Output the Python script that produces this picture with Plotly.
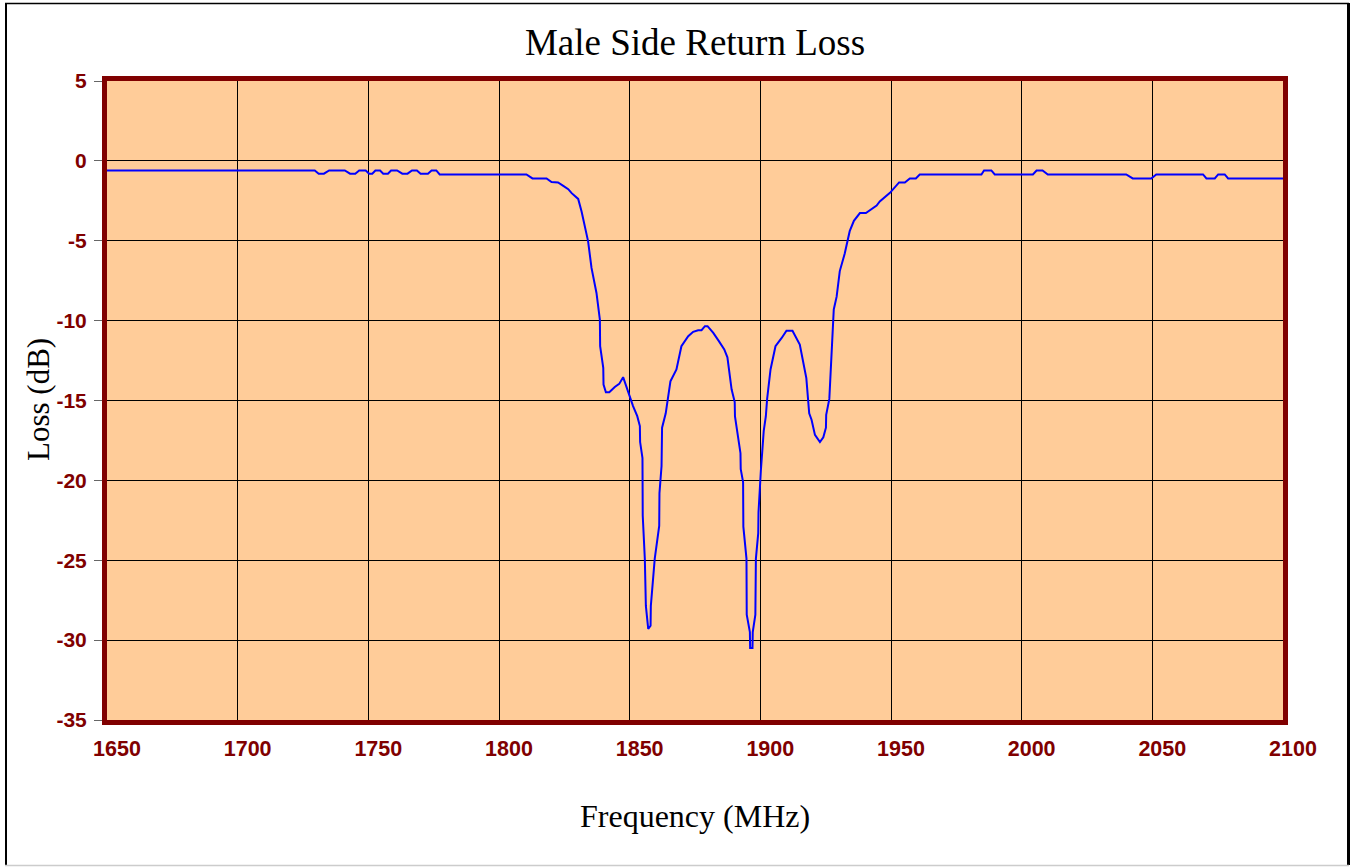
import plotly.graph_objects as go

# Data
freq_mhz = [
    1650, 1729.5, 1731, 1733, 1735, 1741, 1743, 1745, 1746.5, 1749,
    1750.3, 1751.5, 1752.7, 1754.5, 1755.7, 1757.5, 1758.7, 1761, 1763, 1765,
    1766.7, 1768.6, 1770, 1772.8, 1774.2, 1776, 1777.3, 1810.5, 1812.8, 1818.2,
    1820.1, 1822.6, 1824.6, 1826.5, 1827.8, 1829, 1830.3, 1831.6, 1833.2, 1834.1,
    1835.4, 1837.3, 1838.6, 1838.7, 1839.9, 1840.0, 1840.9, 1842.2, 1844.3, 1846,
    1847.5, 1849.4, 1851.3, 1852.9, 1853.9, 1854.0, 1854.9, 1855.0, 1855.8, 1856.2,
    1857.1, 1858, 1858.1, 1859.6, 1861.3, 1861.4, 1862.2, 1862.4, 1863.8, 1865.6,
    1867.9, 1869.8, 1872.4, 1874.3, 1876.2, 1877.5, 1878.8, 1879.8, 1882, 1884.2,
    1886.2, 1887.4, 1889, 1890.2, 1890.3, 1892.4, 1892.5, 1893.4, 1893.5, 1894.7,
    1894.8, 1896, 1896.1, 1897, 1897.1, 1898.1, 1898.3, 1899.2, 1899.3, 1900.2,
    1900.8, 1901.3, 1902.1, 1902.6, 1903.9, 1905.8, 1908.1, 1910, 1912.3, 1915.1,
    1917.6, 1918.3, 1918.7, 1919.6, 1920.9, 1922.8, 1924.1, 1925.1, 1925.2, 1926.4,
    1928.1, 1929.2, 1930.4, 1932.3, 1934.2, 1935.8, 1938.1, 1940.4, 1942.6, 1944.5,
    1945.7, 1949.6, 1953.1, 1955.3, 1957.2, 1959.5, 1961, 1984.6, 1985.6, 1988.4,
    1989.7, 2004.3, 2005.7, 2008, 2010, 2040, 2042.5, 2049.6, 2051.5, 2069.4,
    2070.7, 2073.9, 2075.2, 2077.7, 2079, 2100,
]
loss_db = [
    -0.6, -0.6, -0.8, -0.8, -0.6, -0.6, -0.8, -0.8, -0.6, -0.6,
    -0.8, -0.8, -0.6, -0.6, -0.8, -0.8, -0.6, -0.6, -0.8, -0.8,
    -0.6, -0.6, -0.8, -0.8, -0.6, -0.6, -0.85, -0.85, -1.1, -1.1,
    -1.33, -1.35, -1.56, -1.77, -2.02, -2.17, -2.38, -3.17, -4.3, -5.04,
    -6.7, -8.27, -9.94, -11.6, -12.96, -14.0, -14.48, -14.48, -14.15, -13.96,
    -13.54, -14.5, -15.35, -15.98, -16.6, -17.6, -18.6, -22.2, -24.9, -27.86,
    -29.3, -29.1, -27.86, -24.9, -22.85, -20.8, -19.1, -16.7, -15.8, -13.8,
    -13.06, -11.6, -10.98, -10.7, -10.6, -10.6, -10.35, -10.35, -10.77, -11.3,
    -11.8, -12.3, -14.3, -15.1, -16.0, -18.3, -19.3, -20.1, -22.9, -24.9,
    -28.4, -29.5, -30.5, -30.5, -29.5, -28.4, -24.9, -23.3, -22.0, -19.4,
    -17.9, -16.9, -16.0, -14.9, -13.06, -11.6, -11.1, -10.63, -10.63, -11.5,
    -13.6, -14.9, -15.8, -16.2, -17.15, -17.6, -17.3, -16.7, -15.9, -14.9,
    -9.3, -8.5, -6.9, -5.8, -4.4, -3.75, -3.27, -3.27, -3.0, -2.8,
    -2.54, -2.0, -1.35, -1.35, -1.1, -1.1, -0.85, -0.85, -0.6, -0.6,
    -0.85, -0.85, -0.6, -0.6, -0.85, -0.85, -1.1, -1.1, -0.85, -0.85,
    -1.1, -1.1, -0.85, -0.85, -1.1, -1.1,
]
x_ticks = [1650, 1700, 1750, 1800, 1850, 1900, 1950, 2000, 2050, 2100]
y_ticks = [5, 0, -5, -10, -15, -20, -25, -30, -35]

title_text = "Male Side Return Loss"
x_title = "Frequency (MHz)"
y_title = "Loss (dB)"

W, H = 1351, 867
L, R, T, B = 107, 68, 81, 147
pw, ph = W - L - R, H - T - B

def px(xp):
    return (xp - L) / pw

def py(yp):
    return (H - B - yp) / ph

serif = "Liberation Serif, Times New Roman, serif"
sans = "Liberation Sans, Arial, sans-serif"
dark_red = "#800000"

fig = go.Figure()
fig.add_trace(go.Scatter(
    x=freq_mhz, y=loss_db, mode="lines",
    line=dict(color="#0000FF", width=2),
    showlegend=False, hoverinfo="x+y",
))

fig.update_layout(
    width=W, height=H,
    margin=dict(l=L, r=R, t=T, b=B, pad=0),
    paper_bgcolor="white",
    plot_bgcolor="#FFCC99",
    title=dict(text=title_text, font=dict(family=serif, size=37, color="black"),
               x=0.5, xref="paper", y=1 - 42 / H, yref="container",
               xanchor="center", yanchor="middle"),
    xaxis=dict(range=[1650, 2100], tickvals=x_ticks, ticktext=[str(v) for v in x_ticks],
               showgrid=True, gridcolor="black", gridwidth=1,
               showline=True, linecolor=dark_red, linewidth=5, mirror=True,
               ticks="", zeroline=False,
               tickfont=dict(family=sans, size=21.5, color=dark_red, weight="bold"),
               ticklabelstandoff=5, ticklabelshift=10),
    yaxis=dict(range=[-35, 5], tickvals=y_ticks, ticktext=[str(v) for v in y_ticks],
               showgrid=True, gridcolor="black", gridwidth=1,
               showline=True, linecolor=dark_red, linewidth=5, mirror=True,
               ticks="outside", ticklen=8, tickcolor="#666666", tickwidth=1,
               zeroline=False,
               tickfont=dict(family=sans, size=21, color=dark_red, weight="bold"),
               ticklabelstandoff=3),
    annotations=[
        dict(text=x_title, x=0.5, y=py(816), xref="paper", yref="paper",
             xanchor="center", yanchor="middle", showarrow=False,
             font=dict(family=serif, size=32, color="black")),
        dict(text=y_title, x=px(38), y=py(400), xref="paper", yref="paper",
             xanchor="center", yanchor="middle", showarrow=False, textangle=-90,
             font=dict(family=serif, size=31, color="black")),
    ],
    shapes=[
        dict(type="line", xref="paper", yref="paper", x0=px(6), x1=px(6), y0=py(3), y1=py(865),
             line=dict(color="black", width=2)),
        dict(type="line", xref="paper", yref="paper", x0=px(5), x1=px(1349), y0=py(3.5), y1=py(3.5),
             line=dict(color="black", width=1.5)),
        dict(type="line", xref="paper", yref="paper", x0=px(1348.5), x1=px(1348.5), y0=py(3), y1=py(865),
             line=dict(color="black", width=3)),
        dict(type="line", xref="paper", yref="paper", x0=px(5), x1=px(1349), y0=py(865.5), y1=py(865.5),
             line=dict(color="#CCCCCC", width=1.5)),
    ],
)

fig.write_html("out.html", config={"displayModeBar": False},
               post_script="document.body.style.margin='0';document.body.style.overflow='hidden';")
